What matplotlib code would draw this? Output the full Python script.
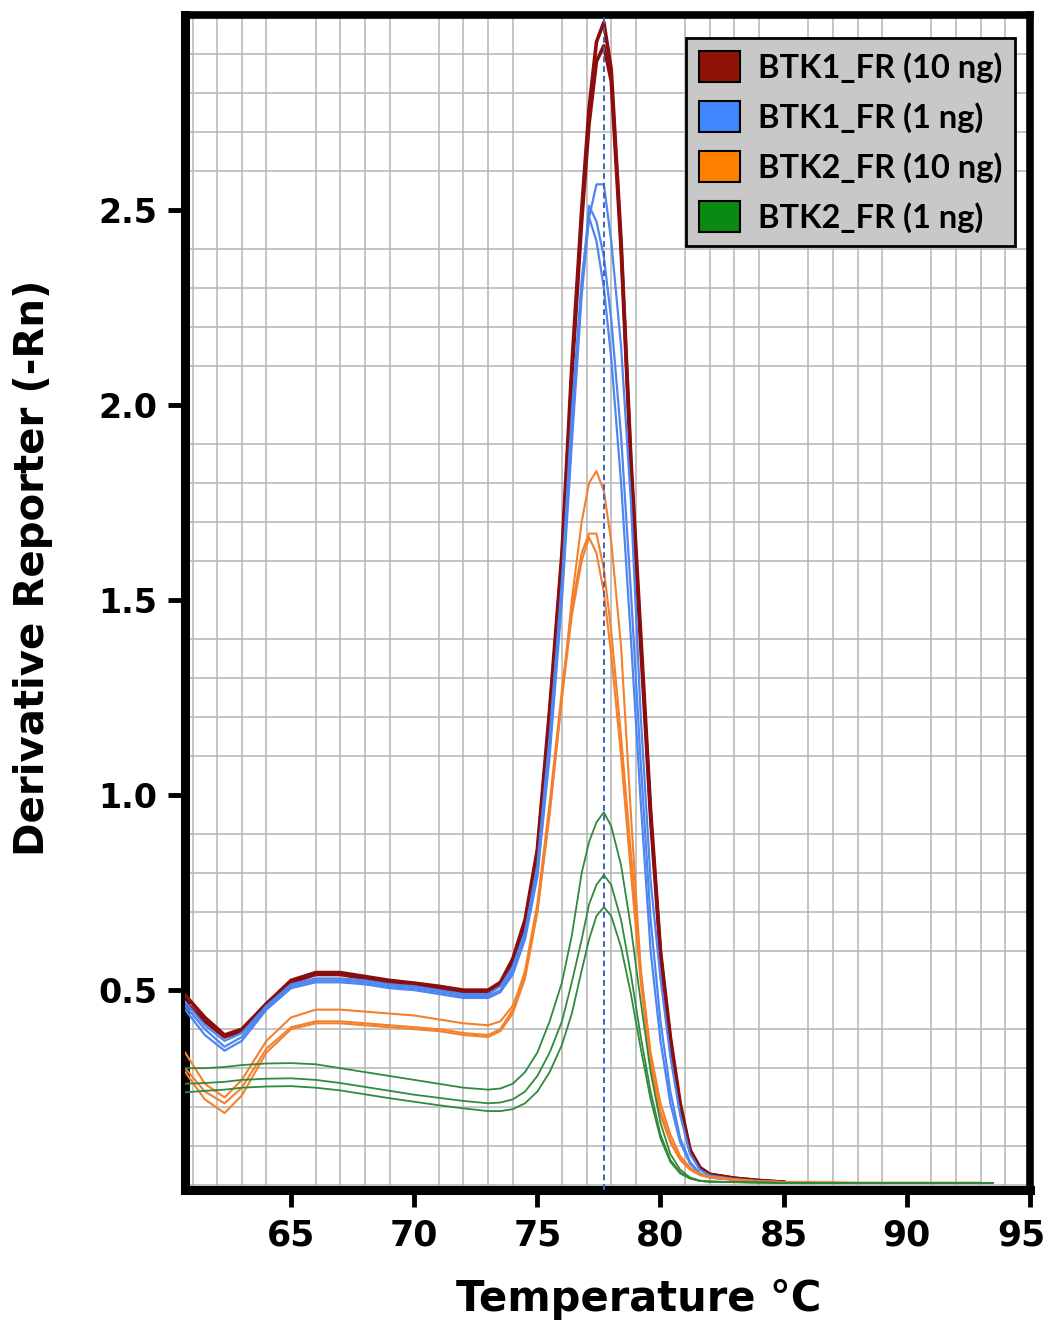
import numpy as np
import matplotlib
matplotlib.use('Agg')
import matplotlib.pyplot as plt
import matplotlib.transforms as mtransforms
from matplotlib import font_manager as fm
from matplotlib.patches import Patch

# melt curve temperatures (deg C)
temp = [60.7, 61.5, 62.3, 63.0, 64.0, 65.0, 66.0, 67.0, 68.0, 69.0, 70.0, 71.0, 72.0, 73.0,
        73.5, 74.0, 74.5, 75.0, 75.5, 76.0, 76.4, 76.8, 77.1, 77.4, 77.7,
        78.0, 78.4, 78.8, 79.2, 79.6, 80.0, 80.4, 80.8, 81.2, 81.6, 82.0,
        83.0, 84.0, 85.0, 88.0, 93.0, 93.5]

# BTK1_FR 10 ng
btk1_10_a = [0.487, 0.43, 0.385, 0.40, 0.465, 0.525, 0.545, 0.545, 0.535, 0.525, 0.518, 0.51, 0.50, 0.50,
             0.52, 0.58, 0.68, 0.86, 1.22, 1.62, 2.10, 2.50, 2.76, 2.93, 2.98,
             2.86, 2.42, 1.86, 1.41, 0.96, 0.60, 0.38, 0.21, 0.09, 0.045, 0.028,
             0.018, 0.012, 0.008, None, None, None]
btk1_10_b = [0.47, 0.42, 0.38, 0.395, 0.465, 0.52, 0.54, 0.54, 0.53, 0.52, 0.515, 0.505, 0.495, 0.495,
             0.515, 0.57, 0.67, 0.85, 1.20, 1.60, 2.07, 2.47, 2.72, 2.88, 2.92,
             2.83, 2.40, 1.84, 1.38, 0.94, 0.59, 0.37, 0.20, 0.09, 0.045, 0.028,
             0.018, 0.012, 0.008, None, None, None]

# BTK1_FR 1 ng
btk1_1_a = [0.47, 0.41, 0.37, 0.39, 0.46, 0.515, 0.53, 0.53, 0.525, 0.515, 0.51, 0.50, 0.49, 0.49,
            0.51, 0.56, 0.65, 0.82, 1.15, 1.55, 1.98, 2.32, 2.48, 2.565, 2.565,
            2.42, 2.15, 1.75, 1.20, 0.78, 0.53, 0.33, 0.18, 0.08, 0.04, 0.025,
            0.016, 0.011, 0.008, None, None, None]
btk1_1_b = [0.46, 0.40, 0.355, 0.38, 0.455, 0.51, 0.525, 0.525, 0.52, 0.51, 0.505, 0.495, 0.485, 0.485,
            0.50, 0.55, 0.64, 0.80, 1.12, 1.52, 1.93, 2.30, 2.51, 2.47, 2.38,
            2.22, 1.92, 1.52, 1.08, 0.68, 0.42, 0.24, 0.12, 0.06, 0.03, 0.02,
            0.014, 0.01, 0.007, None, None, None]
btk1_1_c = [0.45, 0.385, 0.345, 0.37, 0.45, 0.505, 0.52, 0.52, 0.515, 0.505, 0.50, 0.49, 0.48, 0.48,
            0.495, 0.54, 0.63, 0.79, 1.10, 1.50, 1.90, 2.28, 2.48, 2.42, 2.30,
            2.12, 1.80, 1.40, 0.98, 0.60, 0.37, 0.21, 0.11, 0.055, 0.03, 0.02,
            0.014, 0.01, 0.007, None, None, None]

# BTK2_FR 10 ng
btk2_10_a = [0.34, 0.26, 0.225, 0.27, 0.37, 0.43, 0.45, 0.45, 0.445, 0.44, 0.435, 0.425, 0.415, 0.41,
             0.42, 0.46, 0.54, 0.70, 0.95, 1.25, 1.50, 1.70, 1.80, 1.83, 1.78,
             1.65, 1.38, 0.95, 0.55, 0.34, 0.21, 0.13, 0.075, 0.045, 0.028, 0.022,
             0.015, 0.01, 0.008, 0.006, 0.006, None]
btk2_10_b = [0.30, 0.24, 0.21, 0.25, 0.35, 0.405, 0.42, 0.42, 0.415, 0.41, 0.405, 0.40, 0.39, 0.385,
             0.40, 0.45, 0.55, 0.72, 0.98, 1.27, 1.48, 1.62, 1.67, 1.67, 1.58,
             1.42, 1.15, 0.85, 0.55, 0.32, 0.19, 0.115, 0.07, 0.042, 0.027, 0.02,
             0.014, 0.01, 0.008, 0.006, 0.006, None]
btk2_10_c = [0.29, 0.22, 0.185, 0.23, 0.34, 0.40, 0.415, 0.415, 0.41, 0.405, 0.40, 0.395, 0.385, 0.38,
             0.395, 0.44, 0.53, 0.70, 0.96, 1.25, 1.46, 1.60, 1.66, 1.62, 1.52,
             1.36, 1.10, 0.80, 0.52, 0.30, 0.18, 0.11, 0.065, 0.04, 0.026, 0.02,
             0.014, 0.01, 0.008, 0.006, 0.006, None]

# BTK2_FR 1 ng
btk2_1_a = [0.30, 0.30, 0.303, 0.308, 0.312, 0.313, 0.31, 0.30, 0.29, 0.28, 0.27, 0.26, 0.25, 0.245,
            0.248, 0.26, 0.29, 0.34, 0.42, 0.52, 0.64, 0.80, 0.88, 0.93, 0.956,
            0.92, 0.82, 0.66, 0.47, 0.29, 0.16, 0.08, 0.04, 0.02, 0.012, 0.01,
            0.008, 0.007, 0.006, 0.006, 0.006, 0.006]
btk2_1_b = [0.26, 0.262, 0.265, 0.27, 0.273, 0.274, 0.27, 0.262, 0.252, 0.242, 0.232, 0.224, 0.216, 0.21,
            0.212, 0.22, 0.24, 0.28, 0.34, 0.42, 0.52, 0.63, 0.72, 0.77, 0.795,
            0.77, 0.68, 0.54, 0.38, 0.24, 0.13, 0.065, 0.033, 0.018, 0.011, 0.009,
            0.008, 0.007, 0.006, 0.006, 0.006, 0.006]
btk2_1_c = [0.238, 0.242, 0.245, 0.25, 0.253, 0.254, 0.25, 0.243, 0.233, 0.223, 0.214, 0.205, 0.197, 0.19,
            0.19, 0.195, 0.21, 0.24, 0.29, 0.36, 0.44, 0.55, 0.63, 0.69, 0.713,
            0.69, 0.61, 0.49, 0.35, 0.22, 0.12, 0.06, 0.03, 0.017, 0.011, 0.009,
            0.008, 0.007, 0.006, 0.006, 0.006, 0.006]

tm_line = 77.7
legend_labels = ['BTK1_FR (10 ng)', 'BTK1_FR (1 ng)', 'BTK2_FR (10 ng)', 'BTK2_FR (1 ng)']
legend_colors = ['#8e1306', '#3f87ff', '#ff8000', '#0a8a12']

installed = {f.name for f in fm.fontManager.ttflist}
legend_font = 'Lato' if 'Lato' in installed else 'DejaVu Sans'

fig = plt.figure(figsize=(10.52, 13.27), dpi=100)
ax = fig.add_axes([0.176, 0.103, 0.803, 0.886])

T = np.array(temp)
def arr(v):
    return np.array([np.nan if x is None else x for x in v], dtype=float)

for s in [btk1_10_a, btk1_10_b]:
    ax.plot(T, arr(s), color='#8b0d0d', lw=2.6, zorder=3)
for s in [btk1_1_a, btk1_1_b, btk1_1_c]:
    ax.plot(T, arr(s), color='#4d86f0', lw=1.6, zorder=4)
for s in [btk2_10_a, btk2_10_b, btk2_10_c]:
    ax.plot(T, arr(s), color='#f5802c', lw=1.5, zorder=5)
for s in [btk2_1_a, btk2_1_b, btk2_1_c]:
    ax.plot(T, arr(s), color='#2f8a3c', lw=1.3, zorder=6)

ax.axvline(tm_line, color='#3a64c0', lw=1.4, ls=(0, (3, 2)), zorder=7)

ax.set_xlim(60.7, 95.0)
ax.set_ylim(-0.013, 3.0)

# grid: 1 degree / 0.1 units
ax.set_xticks(np.arange(61, 95, 1), minor=True)
ax.set_yticks(np.arange(0.0, 3.0, 0.1), minor=True)
ax.grid(which='minor', color='#b4b4b4', lw=1.1)
ax.set_axisbelow(True)
ax.tick_params(which='minor', length=0)

ax.set_xticks([65, 70, 75, 80, 85, 90, 95])
ax.set_yticks([0.5, 1.0, 1.5, 2.0, 2.5])
ax.set_yticklabels(['0.5', '1.0', '1.5', '2.0', '2.5'])
ax.tick_params(axis='both', which='major', direction='out', length=12, width=3.5, color='black')
for lab in ax.get_yticklabels():
    lab.set_fontsize(24)
    lab.set_fontweight('bold')
for lab in ax.get_xticklabels():
    lab.set_fontsize(25)
    lab.set_fontweight('bold')
ax.tick_params(axis='y', pad=8)
ax.tick_params(axis='x', pad=8)

# nudge the last x label so it stays on the canvas
last = ax.get_xticklabels()[-1]
last.set_transform(last.get_transform() + mtransforms.ScaledTranslation(-6 / 72, 0, fig.dpi_scale_trans))

for side in ['left', 'bottom']:
    ax.spines[side].set_linewidth(6.5)
for side in ['top', 'right']:
    ax.spines[side].set_linewidth(5.5)

fig.text(0.031, 0.572, 'Derivative Reporter (-Rn)', rotation=90, ha='center', va='center',
         fontsize=29, fontweight='bold')
fig.text(0.607, 0.021, 'Temperature °C', ha='center', va='center',
         fontsize=30, fontweight='bold')

handles = [Patch(facecolor=c, edgecolor='black', lw=1.5) for c in legend_colors]
leg = ax.legend(handles, legend_labels, loc='upper right',
                bbox_to_anchor=(1015 / 1052, 1 - 38 / 1327), bbox_transform=fig.transFigure,
                borderaxespad=0, fancybox=False, framealpha=1,
                prop={'family': legend_font, 'weight': 'bold', 'size': 23.5},
                handlelength=1.25, handleheight=1.1, handletextpad=0.55,
                labelspacing=0.55, borderpad=0.4)
leg.get_frame().set_facecolor('#c8c8c8')
leg.get_frame().set_edgecolor('black')
leg.get_frame().set_linewidth(2)
leg.set_zorder(10)

fig.savefig('out.png', dpi=100)
